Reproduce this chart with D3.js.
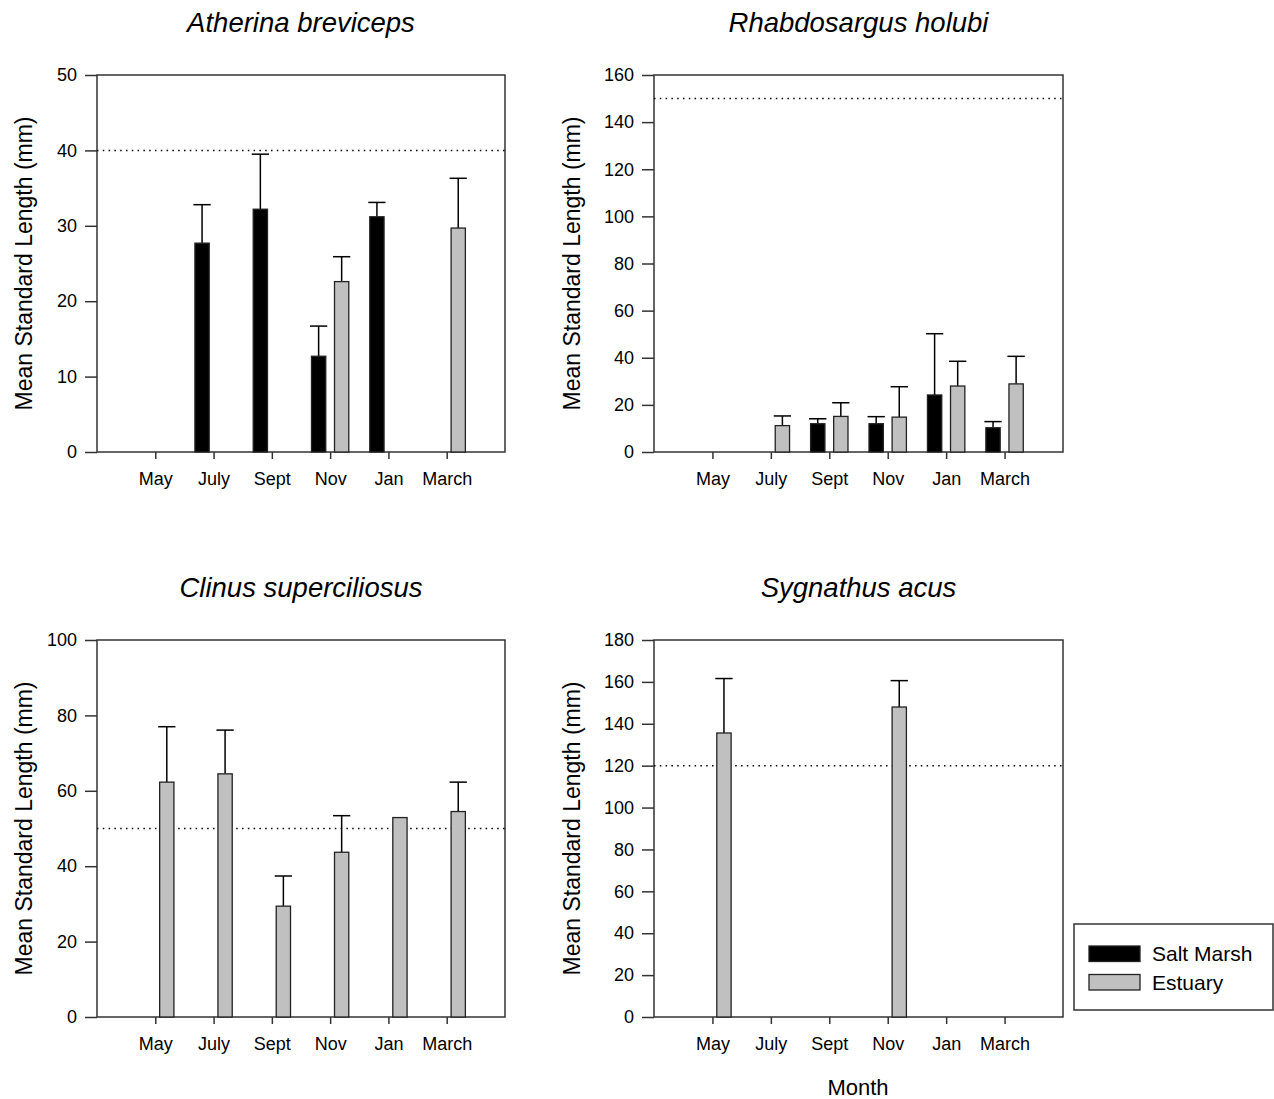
<!DOCTYPE html>
<html>
<head>
<meta charset="utf-8">
<script src="https://cdn.jsdelivr.net/npm/d3@7"></script>
<style>
  html, body { margin: 0; padding: 0; background: #fff; }
  svg { display: block; }
  text { font-family: "Liberation Sans", Arial, sans-serif; fill: #000; }
</style>
</head>
<body>
<svg id="chart" width="1274" height="1099"></svg>
<script>
// Sampling months, shared by every panel
const months = ["May", "July", "Sept", "Nov", "Jan", "March"];

// Atherina breviceps
const atherinaSalt = [null, 27.7, 32.2, 12.7, 31.2, null];
const atherinaSaltSE = [null, 5.1, 7.3, 4.0, 1.9, null];
const atherinaEstuary = [null, null, null, 22.6, null, 29.7];
const atherinaEstuarySE = [null, null, null, 3.3, null, 6.6];

// Rhabdosargus holubi
const rhabdoSalt = [null, null, 12.0, 12.0, 24.2, 10.3];
const rhabdoSaltSE = [null, null, 2.1, 3.0, 26.0, 2.6];
const rhabdoEstuary = [null, 11.2, 15.1, 14.8, 28.0, 28.9];
const rhabdoEstuarySE = [null, 4.1, 5.8, 12.9, 10.5, 11.7];

// Clinus superciliosus
const clinusSalt = [null, null, null, null, null, null];
const clinusSaltSE = [null, null, null, null, null, null];
const clinusEstuary = [62.3, 64.5, 29.4, 43.7, 52.9, 54.5];
const clinusEstuarySE = [14.7, 11.6, 8.0, 9.7, null, 7.8];

// Sygnathus acus
const sygnathusSalt = [null, null, null, null, null, null];
const sygnathusSaltSE = [null, null, null, null, null, null];
const sygnathusEstuary = [135.6, null, null, 148.0, null, null];
const sygnathusEstuarySE = [26.0, null, null, 12.6, null, null];

// Species names, reference lengths (dotted lines) and y-axis ranges
const speciesNames = ["Atherina breviceps", "Rhabdosargus holubi", "Clinus superciliosus", "Sygnathus acus"];
const referenceLengths = [40, 150, 50, 120];
const yMaxima = [50, 160, 100, 180];
const yTickSteps = [10, 20, 20, 20];

const legendLabels = ["Salt Marsh", "Estuary"];
const seriesColors = ["#000000", "#c0c0c0"];

const panels = [
  { salt: atherinaSalt, saltSE: atherinaSaltSE, est: atherinaEstuary, estSE: atherinaEstuarySE,
    left: 97, right: 505, top: 75, bottom: 452, titleX: 24 },
  { salt: rhabdoSalt, saltSE: rhabdoSaltSE, est: rhabdoEstuary, estSE: rhabdoEstuarySE,
    left: 654, right: 1063, top: 75, bottom: 452, titleX: 572 },
  { salt: clinusSalt, saltSE: clinusSaltSE, est: clinusEstuary, estSE: clinusEstuarySE,
    left: 97, right: 505, top: 640, bottom: 1017, titleX: 24 },
  { salt: sygnathusSalt, saltSE: sygnathusSaltSE, est: sygnathusEstuary, estSE: sygnathusEstuarySE,
    left: 654, right: 1063, top: 640, bottom: 1017, titleX: 572 }
];

const svg = d3.select("#chart");

panels.forEach((p, i) => {
  const g = svg.append("g");
  const x = d3.scalePoint().domain(months).range([p.left, p.right]).padding(1);
  const step = x.step();
  const y = d3.scaleLinear().domain([0, yMaxima[i]]).range([p.bottom, p.top]);
  const barOffset = 0.075 * step;
  const barWidth = 0.245 * step;
  const capHalf = barWidth / 2 + 1.5;

  // frame
  g.append("rect")
    .attr("x", p.left).attr("y", p.top)
    .attr("width", p.right - p.left).attr("height", p.bottom - p.top)
    .attr("fill", "none").attr("stroke", "#333").attr("stroke-width", 1.5);

  // reference length
  g.append("line")
    .attr("x1", p.left).attr("x2", p.right)
    .attr("y1", y(referenceLengths[i])).attr("y2", y(referenceLengths[i]))
    .attr("stroke", "#000").attr("stroke-width", 1.5)
    .attr("stroke-dasharray", "1.5,4.3");

  const series = [
    { values: p.salt, se: p.saltSE, color: seriesColors[0], x0: m => x(m) - barOffset - barWidth },
    { values: p.est, se: p.estSE, color: seriesColors[1], x0: m => x(m) + barOffset }
  ];

  series.forEach(s => {
    const rows = months.map((m, j) => ({ m, v: s.values[j], e: s.se[j] })).filter(d => d.v != null);
    // error bars (upper only)
    const eb = rows.filter(d => d.e != null);
    g.selectAll(null).data(eb).enter().append("line")
      .attr("x1", d => s.x0(d.m) + barWidth / 2).attr("x2", d => s.x0(d.m) + barWidth / 2)
      .attr("y1", d => y(d.v)).attr("y2", d => y(d.v + d.e))
      .attr("stroke", "#000").attr("stroke-width", 1.5);
    g.selectAll(null).data(eb).enter().append("line")
      .attr("x1", d => s.x0(d.m) + barWidth / 2 - capHalf).attr("x2", d => s.x0(d.m) + barWidth / 2 + capHalf)
      .attr("y1", d => y(d.v + d.e)).attr("y2", d => y(d.v + d.e))
      .attr("stroke", "#000").attr("stroke-width", 1.5);
    // bars
    g.selectAll(null).data(rows).enter().append("rect")
      .attr("x", d => s.x0(d.m)).attr("width", barWidth)
      .attr("y", d => y(d.v)).attr("height", d => y(0) - y(d.v))
      .attr("fill", s.color).attr("stroke", "#222").attr("stroke-width", 1.3);
  });

  // y axis
  const yAxis = d3.axisLeft(y)
    .tickValues(d3.range(0, yMaxima[i] + 0.001, yTickSteps[i]))
    .tickSize(12).tickPadding(8);
  const ya = g.append("g").attr("transform", `translate(${p.left},0)`).call(yAxis);
  ya.select(".domain").remove();
  ya.selectAll("line").attr("stroke", "#333").attr("stroke-width", 1.5);
  ya.selectAll("text").attr("font-size", 18).attr("font-family", "Liberation Sans, Arial, sans-serif");

  // x axis
  const xAxis = d3.axisBottom(x).tickSize(7).tickPadding(13);
  const xa = g.append("g").attr("transform", `translate(0,${p.bottom})`).call(xAxis);
  xa.select(".domain").remove();
  xa.selectAll("line").attr("stroke", "#333").attr("stroke-width", 1.5);
  xa.selectAll("text").attr("font-size", 18).attr("font-family", "Liberation Sans, Arial, sans-serif");

  // y title
  g.append("text")
    .attr("transform", `translate(${p.titleX},${(p.top + p.bottom) / 2}) rotate(-90)`)
    .attr("text-anchor", "middle").attr("dominant-baseline", "central")
    .attr("font-size", 23)
    .text("Mean Standard Length (mm)");

  // species title
  g.append("text")
    .attr("x", (p.left + p.right) / 2).attr("y", p.top - 43)
    .attr("text-anchor", "middle").attr("font-size", 27.5).attr("font-style", "italic")
    .text(speciesNames[i]);
});

// x-axis title
svg.append("text")
  .attr("x", 858).attr("y", 1095).attr("text-anchor", "middle")
  .attr("font-size", 22).text("Month");

// legend
const legend = svg.append("g");
legend.append("rect")
  .attr("x", 1074).attr("y", 924).attr("width", 199).attr("height", 86)
  .attr("fill", "#fff").attr("stroke", "#333").attr("stroke-width", 1.5);
legendLabels.forEach((lab, k) => {
  const yy = 946 + k * 28.5;
  legend.append("rect")
    .attr("x", 1089).attr("y", yy).attr("width", 51).attr("height", 15.5)
    .attr("fill", seriesColors[k]).attr("stroke", "#222").attr("stroke-width", 1.3);
  legend.append("text")
    .attr("x", 1152).attr("y", yy + 15).attr("font-size", 21).text(lab);
});
</script>
</body>
</html>
